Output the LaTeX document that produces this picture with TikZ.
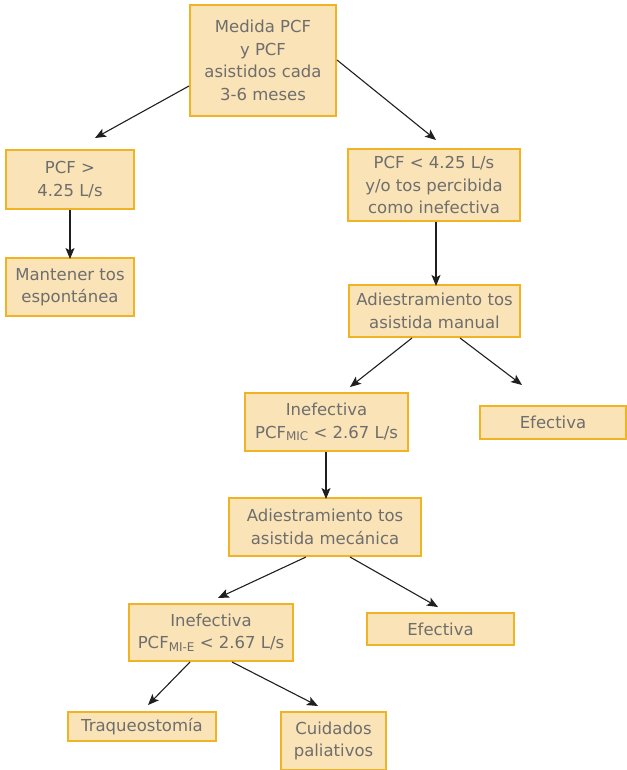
\documentclass[tikz,border=0pt]{standalone}
\usepackage{fontspec}
\setmainfont{DejaVu Sans}
\usetikzlibrary{arrows.meta}
\definecolor{boxfill}{HTML}{FAE3B6}
\definecolor{boxline}{HTML}{F0B323}
\definecolor{boxtext}{HTML}{6E6E6E}
\newcommand{\lowidx}[1]{\raisebox{-0.25ex}{\fontsize{12}{12}\selectfont #1}}
\begin{document}
\begin{tikzpicture}[x=1pt,y=-1pt,
  stepbox/.style={draw=boxline,line width=2pt,fill=boxfill,text=boxtext,
    align=center,inner sep=0pt,font=\fontsize{16.5}{22.5}\selectfont},
  link/.style={-{Stealth[length=11pt,width=9pt,inset=2.5pt]},line width=1.1pt,draw=black!88}]
\useasboundingbox (0,0) rectangle (626,770);
\node[stepbox,minimum width=146,minimum height=111] (med) at (263,60.5) {Medida PCF\\y PCF\\asistidos cada\\3-6 meses};
\node[stepbox,minimum width=128,minimum height=59] (hi) at (70,179.5) {PCF >\\4.25 L/s};
\node[stepbox,minimum width=128,minimum height=58] (keep) at (70,287) {Mantener tos\\espontánea};
\node[stepbox,minimum width=172,minimum height=72] (lo) at (434,185) {PCF < 4.25 L/s\\y/o tos percibida\\como inefectiva};
\node[stepbox,minimum width=171,minimum height=52] (man) at (434.5,311) {Adiestramiento tos\\asistida manual};
\node[stepbox,minimum width=163,minimum height=58] (inef1) at (326.5,422) {Inefectiva\\PCF\lowidx{MIC} < 2.67 L/s};
\node[stepbox,minimum width=146,minimum height=33] (ef1) at (553,422.5) {Efectiva};
\node[stepbox,minimum width=192,minimum height=58] (mec) at (325,527) {Adiestramiento tos\\asistida mecánica};
\node[stepbox,minimum width=164,minimum height=57] (inef2) at (211,632.5) {Inefectiva\\PCF\lowidx{MI-E} < 2.67 L/s};
\node[stepbox,minimum width=147,minimum height=32] (ef2) at (440.5,629) {Efectiva};
\node[stepbox,minimum width=148,minimum height=29] (traq) at (142,726.5) {Traqueostomía};
\node[stepbox,minimum width=105,minimum height=58] (pal) at (333.5,741) {Cuidados\\paliativos};
% connectors
\coordinate (a1) at (95,138);
\coordinate (a2) at (436,140);
\coordinate (b1) at (350,387);
\coordinate (b2) at (522,385);
\coordinate (c1) at (218,598);
\coordinate (c2) at (438,607);
\coordinate (d1) at (148,705);
\coordinate (d2) at (318,706);
\draw[link] (med.west |- 0,86) -- (a1);
\draw[link] (med.east |- 0,60) -- (a2);
\draw[link] (hi.south) -- ([yshift=-2pt]keep.north);
\draw[link] (lo.south -| 436,0) -- ([yshift=-2pt]man.north -| 436,0);
\draw[link] (man.south -| 412,0) -- (b1);
\draw[link] (man.south -| 460,0) -- (b2);
\draw[link] (inef1.south -| 326,0) -- ([yshift=-2pt]mec.north -| 326,0);
\draw[link] (mec.south -| 306,0) -- (c1);
\draw[link] (mec.south -| 350,0) -- (c2);
\draw[link] (inef2.south -| 190,0) -- (d1);
\draw[link] (inef2.south -| 232,0) -- (d2);
\end{tikzpicture}
\end{document}
